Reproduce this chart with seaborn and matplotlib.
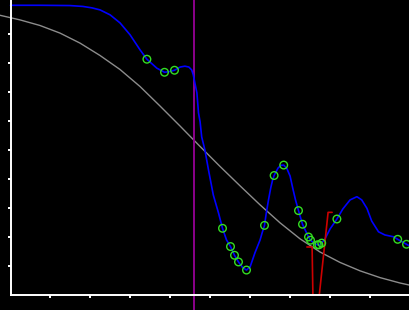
import matplotlib
matplotlib.use("Agg")
import matplotlib.pyplot as plt
import seaborn as sns
import pandas as pd

# blue smooth curve
blue_x = [0.0, 0.74, 1.49, 1.81, 2.04, 2.24, 2.49, 2.74, 2.99, 3.24, 3.41, 3.66, 3.85, 3.96, 4.10,
          4.24, 4.36, 4.46, 4.53, 4.57, 4.61, 4.66, 4.70, 4.74, 4.78, 4.86, 4.95, 5.07, 5.20, 5.30,
          5.40, 5.50, 5.60, 5.70, 5.80, 5.90, 5.99, 6.11, 6.24, 6.29, 6.35, 6.395, 6.45, 6.51, 6.55,
          6.59, 6.69, 6.76, 6.83, 6.91, 6.99, 7.06, 7.125, 7.20, 7.30, 7.45, 7.50, 7.59, 7.67, 7.71,
          7.78, 7.86, 7.99, 8.16, 8.31, 8.49, 8.66, 8.78, 8.91, 9.03, 9.20, 9.36, 9.57, 9.68, 9.90,
          10.01]
blue_y = [9.99, 9.99, 9.98, 9.95, 9.90, 9.83, 9.66, 9.38, 8.97, 8.45, 8.13, 7.82, 7.68, 7.70, 7.75,
          7.86, 7.89, 7.86, 7.76, 7.59, 7.31, 6.97, 6.28, 5.97, 5.45, 5.00, 4.31, 3.45, 2.83, 2.30,
          1.90, 1.67, 1.37, 1.14, 0.95, 0.86, 0.97, 1.45, 1.90, 2.14, 2.40, 2.83, 3.28, 3.72, 3.95,
          4.12, 4.38, 4.47, 4.48, 4.36, 4.10, 3.66, 3.28, 2.91, 2.44, 2.00, 1.89, 1.78, 1.73, 1.73,
          1.79, 1.93, 2.28, 2.62, 2.97, 3.28, 3.39, 3.28, 2.99, 2.55, 2.18, 2.07, 2.01, 1.92, 1.75,
          1.67]

# green sample points
pts_x = [3.41, 3.85, 4.10, 5.30, 5.50, 5.60, 5.70, 5.90, 6.35, 6.59, 6.83, 7.20, 7.30, 7.45,
         7.50, 7.67, 7.71, 7.78, 8.16, 9.68, 9.90]
pts_y = [8.13, 7.68, 7.75, 2.30, 1.67, 1.37, 1.14, 0.86, 2.40, 4.12, 4.48, 2.91, 2.44, 2.00,
         1.89, 1.73, 1.73, 1.79, 2.62, 1.92, 1.75]

# grey curve
grey_x = [-0.2625, 0.2375, 0.7375, 1.2375, 1.7375, 2.2375, 2.7375, 3.2375, 3.7375, 4.2375,
          4.7375, 5.2375, 5.7375, 6.2375, 6.7375, 7.2375, 7.7375, 8.2375, 8.7375, 9.2375,
          9.7375, 9.9875]
grey_y = [9.645, 9.486, 9.293, 9.031, 8.686, 8.259, 7.776, 7.190, 6.517, 5.828,
          5.124, 4.434, 3.766, 3.110, 2.490, 1.938, 1.483, 1.124, 0.834, 0.600,
          0.414, 0.338]

# red polyline
red_x = [7.41, 7.54, 7.56, 7.72, 7.94, 8.04]
red_y = [1.655, 1.655, 0.0, 0.0, 2.85, 2.85]

vline_x = 4.595
ticks_x = [1, 2, 3, 4, 5, 6, 7, 8, 9]
ticks_y = [1, 2, 3, 4, 5, 6, 7, 8, 9]

sns.set_style("ticks")
plt.rcParams["font.family"] = ["DejaVu Sans"]

fig = plt.figure(figsize=(4.1, 3.1), dpi=100, facecolor="black")
ax = fig.add_axes([0, 0, 1, 1])
ax.set_facecolor("black")

blue_df = pd.DataFrame({"x": blue_x, "y": blue_y})
grey_df = pd.DataFrame({"x": grey_x, "y": grey_y})
red_df = pd.DataFrame({"x": red_x, "y": red_y})
pts_df = pd.DataFrame({"x": pts_x, "y": pts_y})

sns.lineplot(data=grey_df, x="x", y="y", ax=ax, color="#8c8c8c", linewidth=1.0,
             sort=False, estimator=None)
ax.axvline(vline_x, color="#8b008b", linewidth=1.4)
sns.lineplot(data=blue_df, x="x", y="y", ax=ax, color="#0000ff", linewidth=1.2,
             sort=False, estimator=None)
sns.lineplot(data=red_df, x="x", y="y", ax=ax, color="#cc0000", linewidth=1.2,
             sort=False, estimator=None)
ax.scatter(pts_df["x"], pts_df["y"], s=30, facecolors="none", edgecolors="#33dd22",
           linewidths=1.0, zorder=5)

ax.set_xlim(-0.2625, 9.9875)
ax.set_ylim(-0.517, 10.172)
ax.spines["left"].set_position(("data", 0))
ax.spines["bottom"].set_position(("data", 0))
ax.spines["left"].set_bounds(0, 10.172)
ax.spines["bottom"].set_bounds(0, 9.9875)
ax.spines["right"].set_visible(False)
ax.spines["top"].set_visible(False)
for s in ("left", "bottom"):
    ax.spines[s].set_color("white")
    ax.spines[s].set_linewidth(1.4)
ax.set_xticks(ticks_x)
ax.set_yticks(ticks_y)
ax.set_xticklabels([])
ax.set_yticklabels([])
ax.tick_params(axis="both", colors="white", width=1.4, length=2.5, direction="out")
ax.set_xlabel("")
ax.set_ylabel("")

fig.savefig("out.png", dpi=100, facecolor="black")
